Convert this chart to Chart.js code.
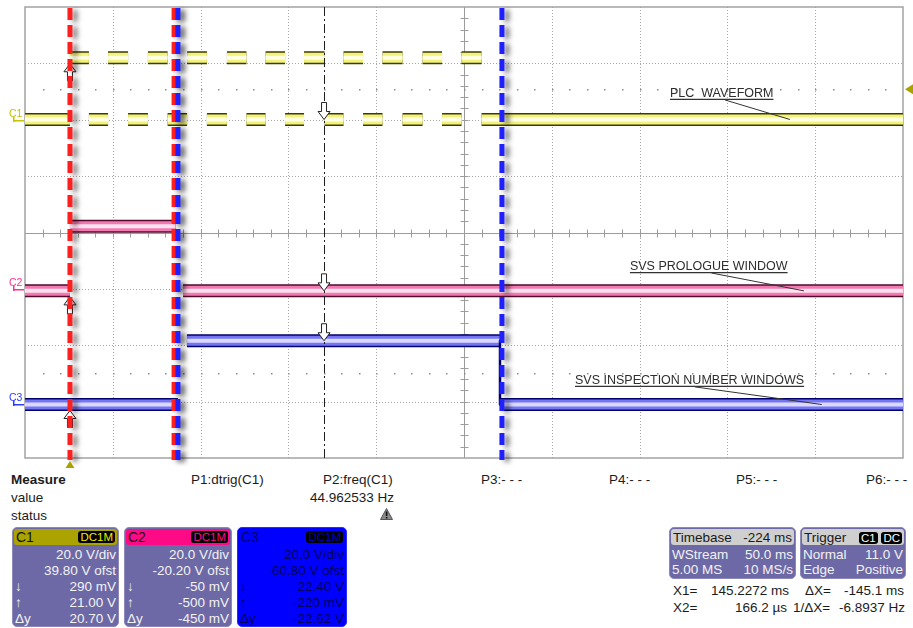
<!DOCTYPE html>
<html>
<head>
<meta charset="utf-8">
<script src="https://cdn.jsdelivr.net/npm/chart.js@4.4.0/dist/chart.umd.min.js"></script>
<style>
  body { margin: 0; background: #fff; font-family: "Liberation Sans", Arial, sans-serif; }
  #wrap { position: relative; width: 913px; height: 628px; overflow: hidden; }
  #scope { position: absolute; left: 0; top: 0; }
  .t { position: absolute; font-size: 13.5px; line-height: 16px; color: #1c1c1c; white-space: nowrap; }
  .r { text-align: right; }
  .box { position: absolute; border-radius: 5px; background: #6d69a6; box-sizing: border-box; border: 1px solid #8c89b8; overflow: hidden; }
  .hdr { height: 16px; margin: 1px 1px 2px 1px; border-radius: 3px; display: flex; justify-content: space-between; align-items: center; padding: 0 2px; font-size: 14px; color: #111; }
  .badge { background: #000; border-radius: 3px; font-size: 11.5px; line-height: 12px; padding: 0 2px; }
  .row { height: 16px; line-height: 16px; font-size: 13.5px; color: #f2f2f2; display: flex; justify-content: space-between; padding: 0 2px 0 2px; }
</style>
</head>
<body>
<div id="wrap">
  <canvas id="scope" width="913" height="470"></canvas>

  <div class="t" style="left:11px;top:472px;font-weight:bold">Measure</div>
  <div class="t" style="left:11px;top:490px">value</div>
  <div class="t" style="left:11px;top:508px">status</div>
  <div class="t" style="left:191px;top:472px">P1:dtrig(C1)</div>
  <div class="t" style="left:323px;top:472px">P2:freq(C1)</div>
  <div class="t r" style="left:283px;width:111px;top:490px">44.962533 Hz</div>
  <svg style="position:absolute;left:380px;top:508px" width="13" height="12" viewBox="0 0 13 12">
    <path d="M6.5 0.5 L12.5 11.5 L0.5 11.5 Z" fill="#8a8a8a" stroke="#555" stroke-width="1"/>
    <rect x="5.8" y="3.5" width="1.6" height="4.5" fill="#111"/><rect x="5.8" y="9" width="1.6" height="1.5" fill="#111"/>
  </svg>
  <div class="t" style="left:481px;top:472px">P3:- - -</div>
  <div class="t" style="left:609px;top:472px">P4:- - -</div>
  <div class="t" style="left:736px;top:472px">P5:- - -</div>
  <div class="t" style="left:866px;top:472px">P6:- - -</div>

  <div id="chBoxes"></div>

  <div class="box" style="left:669px;top:527px;width:127px;height:52px">
    <div class="hdr" style="background:#cfcfcf;font-size:13.5px;color:#1a1a1a"><span>Timebase</span><span>-224 ms</span></div>
    <div class="row" style="height:15px;line-height:15px"><span>WStream</span><span>50.0 ms</span></div>
    <div class="row" style="height:15px;line-height:15px"><span>5.00 MS</span><span>10 MS/s</span></div>
  </div>
  <div class="box" style="left:800px;top:527px;width:106px;height:52px">
    <div class="hdr" style="background:#cfcfcf;font-size:13.5px;color:#1a1a1a"><span>Trigger</span><span><span class="badge" style="color:#fff">C1</span> <span class="badge" style="color:#fff">DC</span></span></div>
    <div class="row" style="height:15px;line-height:15px"><span>Normal</span><span>11.0 V</span></div>
    <div class="row" style="height:15px;line-height:15px"><span>Edge</span><span>Positive</span></div>
  </div>

  <div class="t" style="left:673px;top:583px">X1=</div>
  <div class="t r" style="left:690px;width:99px;top:583px">145.2272 ms</div>
  <div class="t" style="left:805px;top:583px">ΔX=</div>
  <div class="t r" style="left:830px;width:74px;top:583px">-145.1 ms</div>
  <div class="t" style="left:673px;top:600px">X2=</div>
  <div class="t r" style="left:690px;width:97px;top:600px">166.2 µs</div>
  <div class="t" style="left:793px;top:600px">1/ΔX=</div>
  <div class="t r" style="left:830px;width:75px;top:600px">-6.8937 Hz</div>
</div>

<script>
// time axis in ms (50 ms/div, 10 div), vertical axis in divisions (8 div)
const timeRange = [0, 500]
const channelNames = ['C1', 'C2', 'C3']
const voltsPerDiv = [20, 20, 20]
const offsets = [39.8, -20.2, -60.8]

// C1 (PLC waveform): edge times, first edge is rising
const c1Edges = [25.6, 36.4, 47.3, 58.7, 70.0, 81.2, 92.3, 103.6, 115.0, 126.1, 137.0,
  148.1, 158.9, 170.6, 181.4, 192.5, 203.6, 215.0, 226.4, 237.5, 248.6, 260.0]
const c1Levels = [0.29, 22.2] // low, high (V)

// C2 / C3: [start ms, end ms, volts]
const c2Segments = [[0, 25.6, -0.5], [25.6, 85.7, 22.4], [90.0, 500, -0.5]]
const c3Segments = [[0, 87.1, -0.22], [92.2, 270.5, 22.4], [270.5, 500, -0.22]]
const c3Edge = [270.5, 22.4, -0.22]

// screen cursors and hand drawn markers
const cursorTimes = [25.6, 170.3]
const cursorArrows = [
  [0, 0, 22.2, 'up'], [0, 1, -0.5, 'up'], [0, 2, -0.22, 'up'],
  [1, 0, 0.29, 'down'], [1, 1, -0.5, 'down'], [1, 2, 22.4, 'down']
]
const markerTimes = [25.6, 84.9, 87.1, 271.6]
const markerColors = ['#ff1f1f', '#ff1f1f', '#1f1fff', '#1f1fff']
const triggerLevels = [[0, 11.0], [2, 11.0]]

// annotations: text, left (ms), underline (div), leader start (ms), leader end (ms), channel, volts
const noteText = ['PLC  WAVEFORM', 'SVS PROLOGUE WINDOW', 'SVS INSPECTION NUMBER WINDOWS']
const noteLeft = [367.3, 344.5, 313.2]
const noteLine = [6.36, 3.29, 1.27]
const noteFrom = [398.6, 391.0, 381.5]
const noteTo = [[435.6, 0, 0.29], [443.6, 1, -0.5], [453.7, 2, -0.22]]

// readout boxes
const boxLeft = [12, 124, 237]
const boxWidth = [107, 108, 110]
const boxReadouts = [
  ['20.0 V/div', '39.80 V ofst', '290 mV', '21.00 V', '20.70 V'],
  ['20.0 V/div', '-20.20 V ofst', '-50 mV', '-500 mV', '-450 mV'],
  ['20.0 V/div', '-60.80 V ofst', '22.40 V', '-220 mV', '-22.62 V']
]
const rowSymbols = ['', '', '↓', '↑', 'Δy']

const chColors = [
  {dark: '#3c3c00', mid: '#f2f27c', light: '#ffffe2', label: '#c4c400', hdr: '#aaa300', hdrText: '#111', badge: '#f2ea00', body: '#6d69a6', text: '#f2f2f2'},
  {dark: '#520a2c', mid: '#f27ab2', light: '#ffe2ef', label: '#ff2f93', hdr: '#ff0a86', hdrText: '#1a001a', badge: '#ff0a86', body: '#6d69a6', text: '#f2f2f2'},
  {dark: '#00006c', mid: '#7676f4', light: '#dadaff', label: '#2c3cff', hdr: '#0000ff', hdrText: '#00006a', badge: '#0000c8', body: '#0000ff', text: '#00005c'}
]

function toDiv(ch, v) { return 4 + (v + offsets[ch]) / voltsPerDiv[ch] }

function segPoints(ch, segs) {
  const pts = []
  segs.forEach(([t0, t1, v]) => {
    pts.push({x: t0, y: toDiv(ch, v)}, {x: t1, y: toDiv(ch, v)}, {x: t1, y: null})
  })
  return pts
}

const c1Segments = [[timeRange[0], c1Edges[0], c1Levels[0]]]
c1Edges.forEach((e, i) => {
  c1Segments.push([e, i + 1 < c1Edges.length ? c1Edges[i + 1] : timeRange[1], i % 2 === 0 ? c1Levels[1] : c1Levels[0]])
})

const traces = [segPoints(0, c1Segments), segPoints(1, c2Segments), segPoints(2, c3Segments)]
const layers = [['dark', 13], ['mid', 10], ['light', 4]]

const datasets = []
traces.forEach((pts, ch) => {
  layers.forEach(([key, w]) => {
    datasets.push({data: pts, borderColor: chColors[ch][key], borderWidth: w, spanGaps: false, fill: false})
  })
})
datasets.push({
  data: [{x: c3Edge[0], y: toDiv(2, c3Edge[1])}, {x: c3Edge[0], y: toDiv(2, c3Edge[2])}],
  borderColor: chColors[2].dark, borderWidth: 2.5, fill: false
})
datasets.forEach((d, i) => { d.order = -i })

// readout boxes
const boxes = document.getElementById('chBoxes')
boxReadouts.forEach((rows, ch) => {
  const c = chColors[ch]
  let html = `<div class="box" style="left:${boxLeft[ch]}px;top:527px;width:${boxWidth[ch]}px;height:100px;background:${c.body};${ch === 2 ? 'border-color:#2a2aff' : ''}">`
  html += `<div class="hdr" style="background:${c.hdr};color:${c.hdrText}"><span>${channelNames[ch]}</span><span class="badge" style="color:${c.badge}">DC1M</span></div>`
  rows.forEach((txt, i) => {
    html += `<div class="row" style="color:${c.text}"><span>${rowSymbols[i]}</span><span>${txt}</span></div>`
  })
  boxes.insertAdjacentHTML('beforeend', html + '</div>')
})

function drawArrow(ctx, px, tip, dir) {
  const s = dir === 'up' ? 1 : -1
  const h = 8, hw = 6, sw = 2.5, len = 17
  ctx.beginPath()
  ctx.moveTo(px, tip)
  ctx.lineTo(px + hw, tip + s * h)
  ctx.lineTo(px + sw, tip + s * h)
  ctx.lineTo(px + sw, tip + s * len)
  ctx.lineTo(px - sw, tip + s * len)
  ctx.lineTo(px - sw, tip + s * h)
  ctx.lineTo(px - hw, tip + s * h)
  ctx.closePath()
  ctx.fillStyle = '#fff'
  ctx.fill()
  ctx.strokeStyle = '#222'
  ctx.lineWidth = 1
  ctx.stroke()
}

const scopePlugin = {
  id: 'scope',
  beforeDatasetsDraw(chart) {
    const {ctx, chartArea: a, scales: {x, y}} = chart
    ctx.save()
    ctx.lineWidth = 1
    // dotted grid
    ctx.strokeStyle = '#a6a6a6'
    ctx.setLineDash([1, 2])
    for (let i = 1; i < 10; i++) {
      const px = Math.round(x.getPixelForValue(timeRange[0] + i * 50)) + 0.5
      ctx.beginPath(); ctx.moveTo(px, a.top); ctx.lineTo(px, a.bottom); ctx.stroke()
    }
    for (let j = 1; j < 8; j++) {
      const py = Math.round(y.getPixelForValue(j)) + 0.5
      ctx.beginPath(); ctx.moveTo(a.left, py); ctx.lineTo(a.right, py); ctx.stroke()
    }
    ctx.setLineDash([])
    // centre axes with minor ticks
    ctx.strokeStyle = '#9c9c9c'
    const cx = Math.round(x.getPixelForValue(250)) + 0.5
    const cy = Math.round(y.getPixelForValue(4)) + 0.5
    ctx.beginPath(); ctx.moveTo(cx, a.top); ctx.lineTo(cx, a.bottom); ctx.stroke()
    ctx.beginPath(); ctx.moveTo(a.left, cy); ctx.lineTo(a.right, cy); ctx.stroke()
    ctx.beginPath()
    for (let k = 1; k < 40; k++) {
      const py = Math.round(y.getPixelForValue(k * 0.2)) + 0.5
      ctx.moveTo(cx - 4, py); ctx.lineTo(cx + 4, py)
    }
    for (let k = 1; k < 50; k++) {
      const px = Math.round(x.getPixelForValue(k * 10)) + 0.5
      ctx.moveTo(px, cy - 4); ctx.lineTo(px, cy + 4)
    }
    ctx.stroke()
    // trigger level dots
    ctx.fillStyle = '#8c8c8c'
    triggerLevels.forEach(([ch, v]) => {
      const py = Math.round(y.getPixelForValue(toDiv(ch, v)))
      for (let k = 1; k < 50; k++) {
        ctx.fillRect(Math.round(x.getPixelForValue(k * 10)), py, 1.5, 1.5)
      }
    })
    // frame
    ctx.strokeStyle = '#a3a3a3'
    ctx.lineWidth = 1.5
    ctx.strokeRect(a.left, a.top, a.width, a.height)
    ctx.restore()
  },
  afterDatasetsDraw(chart) {
    const {ctx, chartArea: a, scales: {x, y}} = chart
    ctx.save()
    // measurement cursor (dash-dot)
    const mx = Math.round(x.getPixelForValue(cursorTimes[1])) + 0.5
    ctx.strokeStyle = '#1e1e1e'
    ctx.lineWidth = 1
    ctx.setLineDash([9, 3, 2, 3])
    ctx.beginPath(); ctx.moveTo(mx, a.top); ctx.lineTo(mx, a.bottom); ctx.stroke()
    ctx.setLineDash([])
    // cursor arrows
    cursorArrows.forEach(([ci, ch, v, dir]) => {
      const px = x.getPixelForValue(cursorTimes[ci])
      const py = y.getPixelForValue(toDiv(ch, v))
      drawArrow(ctx, px, dir === 'up' ? py + 6 : py, dir)
    })
    // hand drawn dashed markers with shadow
    markerTimes.forEach((t, i) => {
      const px = x.getPixelForValue(t)
      ctx.save()
      ctx.shadowColor = 'rgba(0,0,0,0.5)'
      ctx.shadowBlur = 5
      ctx.shadowOffsetX = 5
      ctx.shadowOffsetY = 2
      ctx.strokeStyle = markerColors[i]
      ctx.lineWidth = 5
      ctx.setLineDash([12, 5])
      ctx.beginPath(); ctx.moveTo(px, a.top + 1); ctx.lineTo(px, a.bottom + 2); ctx.stroke()
      ctx.restore()
    })
    // annotations
    ctx.font = '12.5px "Liberation Sans", Arial, sans-serif'
    ctx.textBaseline = 'alphabetic'
    noteText.forEach((txt, i) => {
      const lx = x.getPixelForValue(noteLeft[i])
      const ly = y.getPixelForValue(noteLine[i])
      const w = ctx.measureText(txt).width
      ctx.fillStyle = '#2e2e2e'
      ctx.fillText(txt, lx, ly - 2.5)
      ctx.strokeStyle = '#333'
      ctx.lineWidth = 1.2
      ctx.beginPath(); ctx.moveTo(lx, ly); ctx.lineTo(lx + w, ly); ctx.stroke()
      const [tt, ch, v] = noteTo[i]
      ctx.lineWidth = 1
      ctx.beginPath()
      ctx.moveTo(x.getPixelForValue(noteFrom[i]), ly + 0.5)
      ctx.lineTo(x.getPixelForValue(tt), y.getPixelForValue(toDiv(ch, v)))
      ctx.stroke()
    })
    // channel ground labels
    ctx.font = '10.5px "Liberation Sans", Arial, sans-serif'
    channelNames.forEach((name, ch) => {
      const gy = Math.round(y.getPixelForValue(toDiv(ch, 0)))
      ctx.fillStyle = chColors[ch].label
      ctx.fillText(name, 9, gy - 3)
      ctx.fillRect(13, gy, 11, 1.5)
      ctx.fillRect(13, gy - 3, 1.5, 5)
    })
    // trigger position / level markers
    ctx.fillStyle = '#a9a200'
    const tx = x.getPixelForValue(cursorTimes[0])
    ctx.beginPath(); ctx.moveTo(tx, a.bottom + 3); ctx.lineTo(tx + 4.5, a.bottom + 10); ctx.lineTo(tx - 4.5, a.bottom + 10); ctx.closePath(); ctx.fill()
    const ty = y.getPixelForValue(toDiv(triggerLevels[0][0], triggerLevels[0][1]))
    ctx.beginPath(); ctx.moveTo(a.right + 2, ty); ctx.lineTo(a.right + 10, ty - 5); ctx.lineTo(a.right + 10, ty + 5); ctx.closePath(); ctx.fill()
    ctx.restore()
  }
}

new Chart(document.getElementById('scope'), {
  type: 'line',
  data: {datasets},
  options: {
    responsive: false,
    animation: false,
    events: [],
    layout: {padding: {left: 25, right: 10, top: 7, bottom: 12}},
    scales: {
      x: {type: 'linear', min: timeRange[0], max: timeRange[1], display: false},
      y: {type: 'linear', min: 0, max: 8, display: false}
    },
    elements: {
      point: {radius: 0},
      line: {tension: 0, borderCapStyle: 'butt', borderJoinStyle: 'round'}
    },
    plugins: {legend: {display: false}, tooltip: {enabled: false}}
  },
  plugins: [scopePlugin]
})
</script>
</body>
</html>
